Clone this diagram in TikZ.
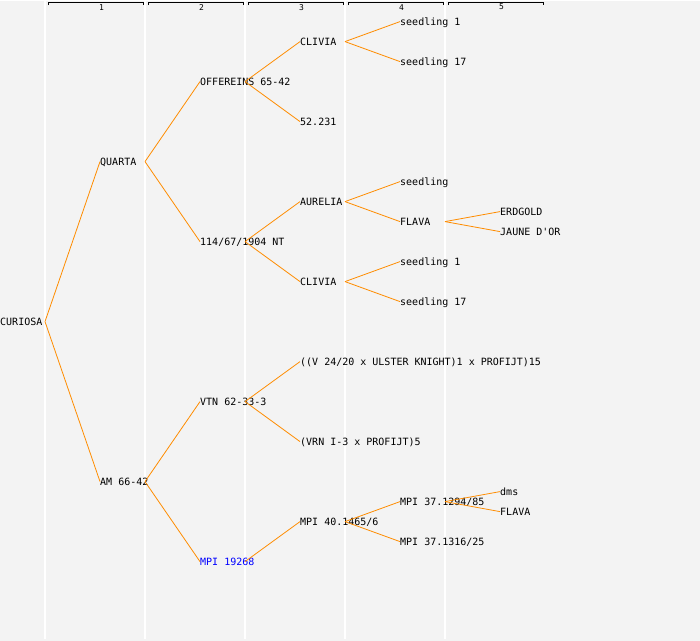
\documentclass[tikz,border=0pt]{standalone}
\usepackage{fontspec}
\setmonofont{DejaVu Sans Mono}
\usetikzlibrary{arrows,shapes,backgrounds}
\definecolor{panelgray}{HTML}{F3F3F3}
\definecolor{linkorange}{HTML}{FF8C00}
\def\tree#1{\textcolor{blue}{#1}}

\begin{document}
\begin{tikzpicture}[x=1pt,y=-1pt,
                    main node/.style={anchor=west,inner sep=0pt,text height=7.3pt,text depth=0pt,
                                      font=\ttfamily\fontsize{10}{12}\selectfont},
                    link/.style={draw=linkorange,line width=0.8pt},
                    bracket/.style={draw=black,line width=0.8pt},
                    col label/.style={inner sep=0pt,font=\ttfamily\fontsize{8}{9}\selectfont}]

              \fill[panelgray] (0,0) rectangle (700,640);
              \foreach \x in {45,145,...,445}
                \draw[white,line width=1.2pt] (\x,0) -- (\x,638);
              \foreach \c in {1,...,5} {
                \draw[bracket] ({100*\c-52},4.5) -- ({100*\c-52},1.5) -- ({100*\c+43},1.5) -- ({100*\c+43},4.5);
                \node[col label] (c\c) at ({100*\c+1.5},6.5) {\c};
              }

              \node[main node] (1) at (0,321) {CURIOSA};
              \node[main node] (2) at (100,161) {QUARTA};
              \node[main node] (3) at (100,481) {AM 66-42};
              \node[main node] (4) at (200,81) {OFFEREINS 65-42};
              \node[main node] (5) at (200,241) {114/67/1904 NT};
              \node[main node] (6) at (200,401) {VTN 62-33-3};
              \node[main node] (7) at (200,561) {\tree{MPI 19268}};
              \node[main node] (8) at (300,41) {CLIVIA};
              \node[main node] (9) at (300,121) {52.231};
              \node[main node] (10) at (300,201) {AURELIA};
              \node[main node] (11) at (300,281) {CLIVIA};
              \node[main node] (12) at (300,361) {((V 24/20 x ULSTER KNIGHT)1 x PROFIJT)15};
              \node[main node] (13) at (300,441) {(VRN I-3 x PROFIJT)5};
              \node[main node] (14) at (300,521) {MPI 40.1465/6};
              \node[main node] (15) at (400,21) {seedling 1};
              \node[main node] (16) at (400,61) {seedling 17};
              \node[main node] (17) at (400,181) {seedling};
              \node[main node] (18) at (400,221) {FLAVA};
              \node[main node] (19) at (400,261) {seedling 1};
              \node[main node] (20) at (400,301) {seedling 17};
              \node[main node] (21) at (400,501) {MPI 37.1294/85};
              \node[main node] (22) at (400,541) {MPI 37.1316/25};
              \node[main node] (23) at (500,211) {ERDGOLD};
              \node[main node] (24) at (500,231) {JAUNE D'OR};
              \node[main node] (25) at (500,491) {dms};
              \node[main node] (26) at (500,511) {FLAVA};

              \path[link]
               ([xshift=45pt]1.west) edge (2.west)
               ([xshift=45pt]1.west) edge (3.west)
               ([xshift=45pt]2.west) edge (4.west)
               ([xshift=45pt]2.west) edge (5.west)
               ([xshift=45pt]3.west) edge (6.west)
               ([xshift=45pt]3.west) edge (7.west)
               ([xshift=45pt]4.west) edge (8.west)
               ([xshift=45pt]4.west) edge (9.west)
               ([xshift=45pt]5.west) edge (10.west)
               ([xshift=45pt]5.west) edge (11.west)
               ([xshift=45pt]6.west) edge (12.west)
               ([xshift=45pt]6.west) edge (13.west)
               ([xshift=45pt]7.west) edge (14.west)
               ([xshift=45pt]8.west) edge (15.west)
               ([xshift=45pt]8.west) edge (16.west)
               ([xshift=45pt]10.west) edge (17.west)
               ([xshift=45pt]10.west) edge (18.west)
               ([xshift=45pt]11.west) edge (19.west)
               ([xshift=45pt]11.west) edge (20.west)
               ([xshift=45pt]14.west) edge (21.west)
               ([xshift=45pt]14.west) edge (22.west)
               ([xshift=45pt]18.west) edge (23.west)
               ([xshift=45pt]18.west) edge (24.west)
               ([xshift=45pt]21.west) edge (25.west)
               ([xshift=45pt]21.west) edge (26.west);
\end{tikzpicture}
\end{document}
